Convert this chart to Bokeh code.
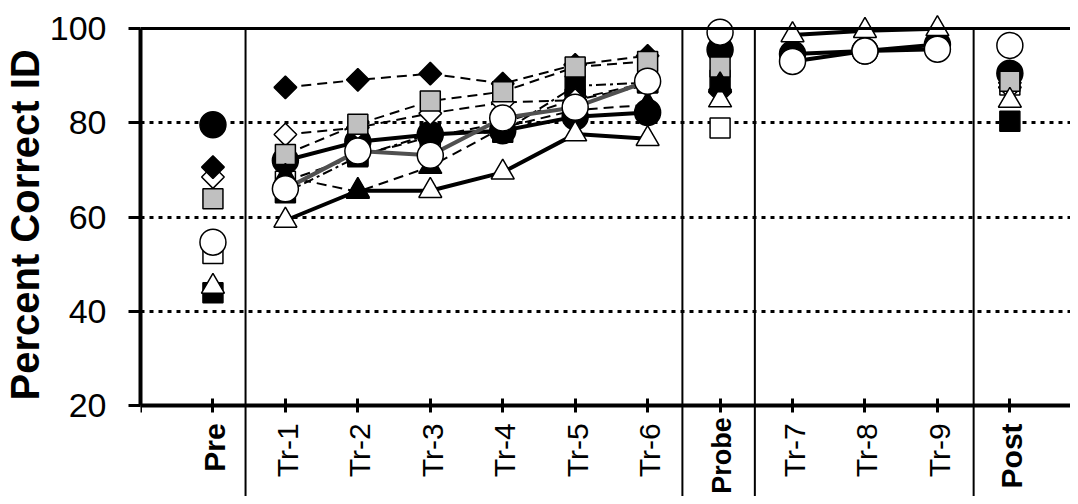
import math
from bokeh.plotting import figure
from bokeh.models import FixedTicker, Span, Label, Range1d, Title
from bokeh.embed import file_html
from bokeh.resources import INLINE

nan = float("nan")

# ---------------- data ----------------
categories = ["Pre", "Tr-1", "Tr-2", "Tr-3", "Tr-4", "Tr-5", "Tr-6",
              "Probe", "Tr-7", "Tr-8", "Tr-9", "Post"]
bold_categories = ["Pre", "Probe", "Post"]

black_circle   = [79.6, 72.0, 76.0, 77.5, 78.3, 81.3, 82.2, 95.5, 94.6, 95.2, 96.6, 90.5]
open_circle    = [54.7, 66.0, 74.0, 73.1, 81.0, 83.3, 88.8, 99.2, 93.0, 95.2, 95.6, 96.4]
black_diamond  = [70.6, 87.5, 89.1, 90.4, 88.3, 92.3, 94.2, 86.5, nan, nan, nan, 88.5]
open_diamond   = [68.5, 77.5, 79.0, 82.0, 84.3, 84.8, 88.0, 87.0, nan, nan, nan, 87.5]
black_square   = [44.0, 65.2, 72.8, 77.6, 78.0, 87.8, 88.5, 89.0, nan, nan, nan, 80.3]
open_square    = [52.3, 67.6, 73.0, 77.0, 80.0, 85.0, 88.5, 78.9, nan, nan, nan, 88.0]
grey_square    = [63.9, 73.3, 79.7, 84.6, 86.6, 91.8, 93.0, 91.8, nan, nan, nan, 88.8]
black_triangle = [nan, 68.6, 65.4, 70.7, 79.0, 82.7, 83.8, 88.0, nan, nan, nan, nan]
open_triangle  = [45.3, 59.3, 65.6, 65.6, 69.5, 77.6, 76.6, 84.8, 98.6, 99.5, 99.9, 84.7]

y_ticks = [20, 40, 60, 80, 100]
phase_breaks = [1.45, 7.48, 8.48, 11.5]

# ---------------- styles ----------------
FONT = "Liberation Sans"
GREY_FILL = "#c0c0c0"
DARK_LINE = "#505050"

# drawing order: first = bottom
series = [
    ("open_square",    open_square,    dict(marker="square", size=20, fill_color="white", angle=0)),
    ("black_square",   black_square,   dict(marker="square", size=20, fill_color="black", angle=0)),
    ("black_circle",   black_circle,   dict(marker="circle", size=26, fill_color="black", angle=0)),
    ("open_diamond",   open_diamond,   dict(marker="square", size=16, fill_color="white", angle=math.pi / 4)),
    ("black_diamond",  black_diamond,  dict(marker="square", size=16, fill_color="black", angle=math.pi / 4)),
    ("grey_square",    grey_square,    dict(marker="square", size=20, fill_color=GREY_FILL, angle=0)),
    ("open_triangle",  open_triangle,  dict(marker="triangle", size=23, fill_color="white", angle=0)),
    ("black_triangle", black_triangle, dict(marker="triangle", size=23, fill_color="black", angle=0)),
    ("open_circle",    open_circle,    dict(marker="circle", size=26, fill_color="white", angle=0)),
]

thick = dict(line_color="black", line_width=4, line_dash="solid")
dashed = dict(line_color="black", line_width=2, line_dash="10 6")
dashdot = dict(line_color="black", line_width=2, line_dash="10 4 3 4")
line_styles = {
    "black_circle":   [thick, thick],
    "open_circle":    [dict(line_color=DARK_LINE, line_width=4, line_dash="solid"), thick],
    "open_triangle":  [thick, thick],
    "black_diamond":  [dashed, dashed],
    "open_diamond":   [dashed, dashed],
    "grey_square":    [dashed, dashed],
    "open_square":    [dashed, dashed],
    "black_square":   [dashdot, dashdot],
    "black_triangle": [dashed, dashed],
}

# ---------------- figure ----------------
W, H = 1070, 496
Y0, Y1 = 0.82, 105.91
x_pos = list(range(1, len(categories) + 1))

p = figure(width=W, height=H, output_backend="svg", toolbar_location=None,
           x_range=Range1d(0, 12.837), y_range=Range1d(Y0, Y1),
           min_border_left=138, min_border_right=0, min_border_top=0, min_border_bottom=0)
p.outline_line_color = None
p.background_fill_color = "white"
p.border_fill_color = "white"

# y axis
p.yaxis.ticker = FixedTicker(ticks=y_ticks)
p.yaxis.bounds = (20, 100)
p.yaxis.axis_line_width = 4
p.yaxis.axis_line_color = "black"
p.yaxis.major_tick_line_width = 3
p.yaxis.major_tick_in = 0
p.yaxis.major_tick_out = 12
p.yaxis.minor_tick_line_color = None
p.yaxis.major_label_standoff = 22
p.yaxis.major_label_text_font = FONT
p.yaxis.major_label_text_font_size = "34px"
p.yaxis.major_label_text_color = "black"

# y axis title (left panel), placed from the bottom upward
p.add_layout(Title(text="Percent Correct ID", align="left", offset=96, standoff=0,
                   text_font=FONT, text_font_size="40px", text_font_style="bold",
                   text_color="black"), "left")

# x axis at y = 20
p.xaxis.fixed_location = 20
p.xaxis.ticker = FixedTicker(ticks=[0] + x_pos)
p.xaxis.major_label_overrides = {i: "" for i in [0] + x_pos}
p.xaxis.axis_line_width = 4
p.xaxis.axis_line_color = "black"
p.xaxis.major_tick_line_width = 3
p.xaxis.major_tick_in = 7
p.xaxis.major_tick_out = 7
p.xaxis.minor_tick_line_color = None

# grid
p.xgrid.grid_line_color = None
p.ygrid.ticker = FixedTicker(ticks=y_ticks[1:])
p.ygrid.grid_line_color = "black"
p.ygrid.grid_line_width = 3
p.ygrid.grid_line_dash = "4 5"

# top frame line
p.add_layout(Span(location=100, dimension="width", line_color="black", line_width=3))

# phase separators
p.segment(x0=phase_breaks, y0=[Y0] * len(phase_breaks),
          x1=phase_breaks, y1=[100] * len(phase_breaks),
          line_color="black", line_width=2)

# connected training blocks
blocks, cur = [], []
for i, c in enumerate(categories):
    if c.startswith("Tr-"):
        cur.append(i)
    elif cur:
        blocks.append(cur)
        cur = []
if cur:
    blocks.append(cur)

for name, vals, _ in series:
    for bi, blk in enumerate(blocks):
        xs = [x_pos[i] for i in blk]
        ys = [vals[i] for i in blk]
        if all(math.isnan(v) for v in ys):
            continue
        p.line(xs, ys, **line_styles[name][bi])

for name, vals, st in series:
    p.scatter(x_pos, vals, marker=st["marker"], size=st["size"],
              fill_color=st["fill_color"], line_color="black", line_width=1.5,
              angle=st["angle"])

# category labels (rotated)
for xp, c in zip(x_pos, categories):
    is_probe = (c == "Probe")
    p.add_layout(Label(x=xp, y=17.6 if is_probe else 16.3, text=c, angle=math.pi / 2,
                       text_align="right", text_baseline="middle", x_offset=2,
                       text_font=FONT, text_font_size="27px" if is_probe else "30px",
                       text_font_style="bold" if c in bold_categories else "normal",
                       text_color="black"))

open("out.html", "w").write(file_html(p, INLINE))
